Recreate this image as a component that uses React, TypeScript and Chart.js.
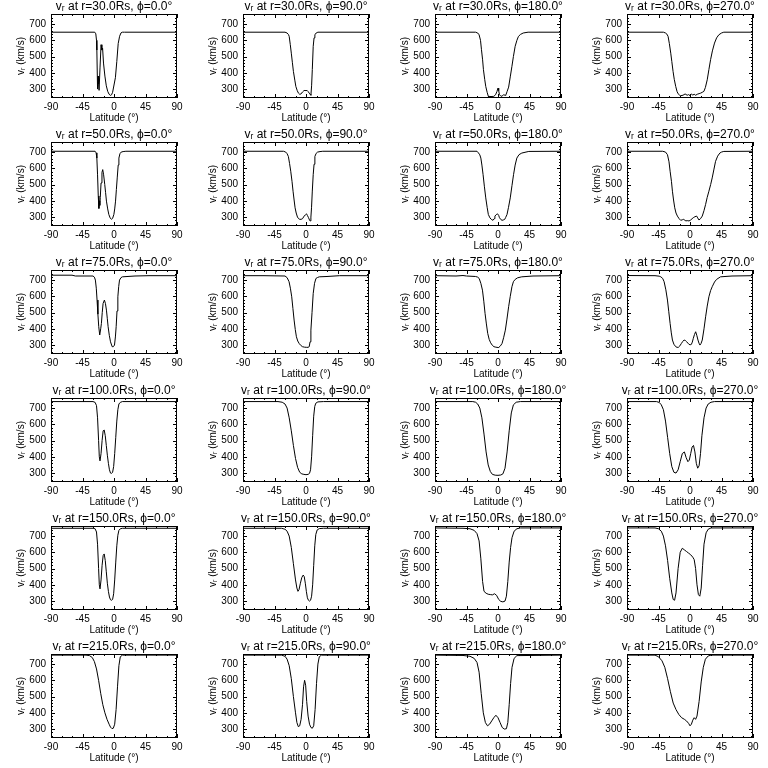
import React, { useEffect, useRef } from "react";
import { Chart, registerables } from "chart.js";

Chart.register(...registerables);

// ---------- axes ----------
const xTicks = [-90, -45, 0, 45, 90];
const yTicks = [300, 400, 500, 600, 700];
const xMinorTicks = [-75, -60, -30, -15, 15, 30, 60, 75];
const yMinorTicks = [260, 280, 320, 340, 360, 380, 420, 440, 460, 480, 520, 540, 560, 580, 620, 640, 660, 680, 720, 740, 760];
const latMin = -90;
const latMax = 90;
const vMin = 245;
const vMax = 762;

const radii = ["30.0", "50.0", "75.0", "100.0", "150.0", "215.0"];
const phis = ["0.0", "90.0", "180.0", "270.0"];

// ---------- r = 30 Rs ----------
const lat_r30_p0 = [-90, -27.5, -26, -25, -24.5, -23.5, -22.8, -22, -21.3, -20, -18.5, -17.3, -16.3, -15, -13, -11, -9, -7, -5, -3.5, -2, 0, 2, 4, 6, 8, 10, 12, 15, 90];
const vr_r30_p0 = [650, 650, 640, 600, 540, 300, 380, 330, 292, 430, 573, 540, 552, 460, 380, 320, 286, 268, 261, 265, 280, 325, 370, 470, 580, 625, 646, 650, 650, 650];

const lat_r30_p90 = [-90, -30, -27, -25, -24, -22.5, -21, -19.5, -18, -16, -14.5, -12.5, -10.8, -9, -7.4, -5, -3, -1.5, 0, 1.5, 3, 4.6, 6, 7, 8, 9, 10.3, 11.5, 12.7, 14.5, 17, 90];
const vr_r30_p90 = [650, 650, 645, 635, 624, 575, 521, 465, 409, 355, 316, 290, 275, 268, 269, 282, 290, 292, 290, 292, 285, 275, 267, 262, 320, 420, 563, 615, 634, 645, 650, 650];

const lat_r30_p180 = [-90, -32, -29, -27, -25, -23.6, -22, -20.8, -19, -17.5, -15.5, -13.8, -10, -6, -3.5, -1.5, 0, 1, 2.1, 4.4, 6, 8.2, 10, 11.4, 13, 15.2, 17.5, 19.9, 22, 24.5, 27, 29.2, 32, 36, 40, 43, 90];
const vr_r30_p180 = [650, 650, 645, 634, 600, 542, 480, 419, 360, 316, 280, 255, 254, 255, 265, 285, 306, 290, 265, 255, 258, 265, 262, 265, 285, 312, 375, 440, 500, 563, 600, 624, 636, 645, 648, 650, 650];

const lat_r30_p270 = [-90, -38, -35, -33, -31.3, -29.5, -27.5, -26, -24.2, -22.5, -20.4, -18.5, -17, -15, -13.3, -10, -7, -4, -2, 0, 2, 4, 6, 8, 10.4, 13, 15.2, 17.5, 19.9, 22, 24.6, 27, 29.4, 32, 35, 38, 41.2, 45, 48.3, 90];
const vr_r30_p270 = [650, 650, 645, 638, 624, 580, 521, 470, 409, 360, 316, 285, 271, 263, 259, 262, 270, 262, 266, 260, 270, 263, 268, 262, 268, 272, 275, 280, 286, 310, 357, 420, 481, 535, 583, 615, 634, 645, 650, 650];

// ---------- r = 50 Rs ----------
const lat_r50_p0 = [-90, -27, -25.5, -24.5, -23.5, -22.5, -21.6, -21, -20.3, -19.6, -18.5, -17.2, -16.1, -14.8, -13.2, -12, -10.8, -9, -7.4, -5.5, -3.6, -2, -0.2, 1, 2.2, 3.4, 4.6, 6, 7, 8.5, 10.3, 13, 17, 90];
const vr_r50_p0 = [705, 705, 695, 663, 560, 430, 353, 400, 372, 420, 510, 575, 592, 560, 500, 450, 398, 350, 316, 295, 286, 292, 316, 350, 398, 470, 541, 620, 663, 690, 700, 703, 705, 705];

const lat_r50_p90 = [-90, -32, -29, -27, -25.2, -23.5, -21.8, -20, -18.5, -17, -15.6, -14, -12.2, -10.5, -8.9, -7, -5, -2.6, -1, 0.7, 2, 3.6, 5, 6, 7, 7.9, 9, 10.3, 11.5, 12.7, 14.5, 16.6, 20, 24, 90];
const vr_r50_p90 = [705, 705, 700, 690, 673, 630, 582, 520, 459, 405, 357, 325, 300, 290, 286, 286, 290, 306, 313, 320, 310, 296, 282, 276, 300, 357, 460, 561, 625, 673, 692, 700, 703, 705, 705];

const lat_r50_p180 = [-90, -30, -28, -26, -24.5, -23, -21.3, -19.5, -17.5, -15.5, -13.8, -11.5, -9.6, -7.2, -5.5, -4.4, -2.5, -0.7, 1, 2.1, 4, 5.8, 7.5, 9.6, 11, 12.9, 15, 17.5, 20, 22.2, 24.5, 26.9, 30, 34, 40, 44, 90];
const vr_r50_p180 = [705, 705, 695, 683, 663, 620, 561, 490, 418, 360, 316, 295, 286, 280, 290, 306, 315, 320, 310, 296, 285, 280, 282, 286, 298, 316, 360, 418, 495, 561, 620, 663, 684, 694, 700, 704, 705];

const lat_r50_p270 = [-90, -39, -35, -32.2, -30, -28.4, -26.5, -25.1, -23.5, -21.8, -20, -18, -15.5, -13.3, -11, -9.5, -7.5, -6.2, -4, -1.4, 1, 3, 4.7, 7, 9.5, 11, 12.8, 15, 17.5, 20, 22.3, 24.5, 27, 29.5, 31.7, 34, 36.5, 39.5, 42.6, 45, 48.3, 90];
const vr_r50_p270 = [705, 705, 700, 684, 640, 582, 520, 459, 405, 357, 325, 306, 290, 280, 283, 286, 282, 276, 278, 276, 282, 290, 296, 302, 306, 295, 282, 290, 306, 340, 378, 420, 459, 500, 541, 590, 643, 675, 694, 700, 704, 705];

// ---------- r = 75 Rs ----------
const lat_r75_p0 = [-90, -60, -55, -30, -28, -26.6, -25.3, -24.2, -23, -21.8, -20.4, -19, -18, -16.8, -15.6, -13.7, -12.2, -10.8, -9.6, -8.4, -6.7, -5, -2.6, -1, 0.7, 2, 3.1, 4.3, 5.5, 6.7, 7.9, 10, 12, 30, 50, 90];
const vr_r75_p0 = [730, 730, 725, 725, 718, 700, 650, 577, 490, 413, 362, 400, 433, 500, 556, 577, 555, 515, 465, 413, 360, 320, 290, 290, 300, 350, 413, 510, 597, 660, 700, 715, 720, 725, 727, 727];

const lat_r75_p90 = [-90, -60, -30, -27, -24.2, -22.3, -20.4, -18.7, -17, -15.3, -13.7, -11.8, -9.8, -7.5, -5, -2, 1, 3, 4.6, 5.8, 7, 8.6, 10.3, 12.2, 14.2, 16.5, 19, 30, 48, 90];
const vr_r75_p90 = [727, 727, 725, 715, 690, 650, 597, 525, 454, 395, 351, 325, 310, 298, 290, 287, 286, 286, 290, 320, 392, 500, 618, 680, 710, 716, 720, 722, 727, 727];

const lat_r75_p180 = [-90, -60, -50, -45, -32, -29, -26.9, -24.5, -22.2, -20.3, -18.5, -16.6, -14.7, -12.6, -10.5, -8, -5.8, -3, 0, 1.2, 3.5, 5.8, 8, 10.5, 12.8, 15.2, 17.5, 19.9, 22, 24.5, 28, 34, 50, 90];
const vr_r75_p180 = [727, 725, 728, 725, 722, 718, 710, 680, 638, 570, 495, 430, 372, 335, 314, 298, 290, 287, 285, 286, 295, 310, 345, 392, 460, 536, 600, 659, 690, 704, 714, 720, 725, 727];

const lat_r75_p270 = [-90, -50, -44, -41.7, -39, -37, -34.5, -32.2, -30.3, -28.4, -26.7, -25.1, -23, -20.4, -18.5, -16.6, -14.5, -12.3, -10.4, -8.5, -6.6, -4.7, -3, -1.4, 0.3, 1.9, 3.3, 4.7, 6.4, 8.1, 9.7, 11.4, 12.8, 14.2, 15.8, 17.5, 20, 22.3, 24.6, 27, 29.4, 31.7, 35, 37.9, 43.6, 60, 90];
const vr_r75_p270 = [728, 727, 724, 720, 710, 690, 640, 577, 505, 433, 375, 331, 305, 290, 286, 286, 295, 310, 322, 331, 328, 320, 312, 304, 302, 304, 318, 341, 365, 382, 360, 331, 312, 300, 310, 331, 400, 474, 540, 597, 635, 659, 688, 704, 720, 725, 727];

// ---------- r = 100 Rs ----------
const lat_r100_p0 = [-90, -30, -27, -25, -23.5, -22, -21, -20, -18.5, -17, -15.5, -14, -12.5, -11, -9.5, -8, -6.5, -5, -3.5, -2, -0.5, 1, 2.5, 4, 5.5, 7, 9, 12, 90];
const vr_r100_p0 = [740, 740, 735, 715, 640, 500, 400, 375, 420, 500, 560, 565, 530, 470, 410, 360, 320, 300, 298, 305, 340, 420, 520, 620, 690, 725, 735, 740, 740];

const lat_r100_p90 = [-90, -40, -34, -30, -27, -24, -21, -18, -15, -12, -9, -6, -3, 0, 3, 5, 6.5, 8, 9.5, 11, 12.5, 14, 17, 25, 90];
const vr_r100_p90 = [740, 740, 736, 725, 700, 640, 560, 470, 390, 335, 305, 295, 292, 290, 292, 298, 320, 400, 530, 650, 710, 730, 738, 740, 740];

const lat_r100_p180 = [-90, -36, -32, -29, -26, -23, -20, -17, -14, -11, -8, -4, 0, 4, 7, 10, 13, 16, 19, 22, 26, 32, 90];
const vr_r100_p180 = [740, 740, 736, 725, 700, 640, 540, 430, 350, 310, 292, 287, 286, 288, 295, 330, 430, 560, 670, 720, 736, 740, 740];

const lat_r100_p270 = [-90, -48, -44, -41, -38, -35, -32, -29, -26, -23, -20, -17, -14, -11, -8, -5.5, -3, -1, 1, 3, 5, 7, 9, 11, 13, 15, 17, 20, 23, 26, 30, 35, 90];
const vr_r100_p270 = [740, 740, 735, 720, 690, 620, 520, 420, 340, 305, 300, 320, 370, 420, 430, 395, 370, 380, 420, 460, 470, 430, 360, 330, 345, 420, 530, 640, 700, 725, 736, 740, 740];

// ---------- r = 150 Rs ----------
const lat_r150_p0 = [-90, -30, -27, -25, -23.5, -22, -21, -20, -18.5, -17, -15.5, -14, -12.5, -11, -9.5, -8, -6.5, -5, -3.5, -2, -0.5, 1, 2.5, 4, 5.5, 7, 9, 12, 90];
const vr_r150_p0 = [748, 748, 745, 725, 650, 500, 400, 375, 430, 520, 580, 590, 550, 480, 410, 360, 325, 308, 305, 310, 345, 430, 540, 640, 705, 735, 745, 748, 748];

const lat_r150_p90 = [-90, -35, -30, -27, -24, -21, -18, -15, -13, -11.5, -10, -8, -6, -4, -2.5, -1, 0.5, 2, 3.5, 5, 6.5, 8, 9.5, 11, 12.5, 14, 16, 19, 25, 90];
const vr_r150_p90 = [748, 748, 742, 730, 700, 630, 530, 430, 380, 360, 370, 410, 445, 460, 450, 410, 360, 320, 305, 300, 305, 330, 400, 520, 640, 710, 738, 746, 748, 748];

const lat_r150_p180 = [-90, -50, -40, -34, -30, -27, -24.5, -22, -20, -17, -14, -11, -8, -5, -2, 1, 4, 7, 10, 12, 14, 16, 18, 20, 23, 27, 32, 90];
const vr_r150_p180 = [750, 748, 745, 735, 715, 670, 560, 420, 360, 348, 342, 340, 338, 345, 335, 310, 298, 295, 300, 330, 420, 540, 630, 690, 730, 745, 750, 750];

const lat_r150_p270 = [-90, -50, -45, -41, -38, -35, -32, -29, -26, -24, -22, -20, -17, -14, -11, -8, -5, -2, 1, 4, 6, 8, 10, 12, 14, 16, 18, 20, 23, 26, 30, 90];
const vr_r150_p270 = [750, 750, 745, 730, 700, 640, 550, 440, 350, 310, 305, 350, 500, 600, 625, 615, 605, 595, 585, 570, 555, 500, 400, 340, 330, 380, 520, 650, 720, 742, 750, 750];

// ---------- r = 215 Rs ----------
const lat_r215_p0 = [-90, -40, -35, -31, -28, -25, -22, -19, -16, -13, -10, -7, -5, -3, -1, 1, 3, 5, 7, 9, 12, 90];
const vr_r215_p0 = [755, 755, 752, 740, 715, 670, 600, 520, 450, 400, 360, 330, 312, 303, 305, 330, 420, 560, 690, 745, 755, 755];

const lat_r215_p90 = [-90, -35, -30, -27, -24, -21, -18, -15, -13, -11, -9, -7, -5, -3.5, -2, -0.5, 1, 3, 5, 7, 9, 11, 13, 15, 17, 19, 22, 90];
const vr_r215_p90 = [755, 755, 748, 730, 690, 610, 500, 400, 340, 315, 320, 360, 450, 560, 600, 570, 470, 380, 330, 310, 305, 320, 420, 580, 700, 745, 755, 755];

const lat_r215_p180 = [-90, -50, -40, -34, -30, -27, -24, -21, -18, -15, -12, -9, -6, -3, 0, 3, 6, 9, 12, 14, 16, 18, 20, 23, 27, 90];
const vr_r215_p180 = [755, 753, 748, 735, 710, 650, 520, 400, 340, 320, 330, 350, 370, 385, 370, 340, 310, 300, 302, 340, 450, 580, 680, 735, 752, 755];

const lat_r215_p270 = [-90, -50, -45, -40, -36, -32, -28, -24, -20, -16, -12, -8, -5, -2, 0, 2, 4, 6, 8, 10, 13, 16, 19, 22, 26, 30, 90];
const vr_r215_p270 = [755, 755, 745, 720, 680, 610, 530, 460, 420, 390, 370, 360, 350, 335, 320, 330, 355, 370, 360, 380, 470, 590, 680, 730, 750, 755, 755];

const latRows = [
  [lat_r30_p0, lat_r30_p90, lat_r30_p180, lat_r30_p270],
  [lat_r50_p0, lat_r50_p90, lat_r50_p180, lat_r50_p270],
  [lat_r75_p0, lat_r75_p90, lat_r75_p180, lat_r75_p270],
  [lat_r100_p0, lat_r100_p90, lat_r100_p180, lat_r100_p270],
  [lat_r150_p0, lat_r150_p90, lat_r150_p180, lat_r150_p270],
  [lat_r215_p0, lat_r215_p90, lat_r215_p180, lat_r215_p270],
];
const vrRows = [
  [vr_r30_p0, vr_r30_p90, vr_r30_p180, vr_r30_p270],
  [vr_r50_p0, vr_r50_p90, vr_r50_p180, vr_r50_p270],
  [vr_r75_p0, vr_r75_p90, vr_r75_p180, vr_r75_p270],
  [vr_r100_p0, vr_r100_p90, vr_r100_p180, vr_r100_p270],
  [vr_r150_p0, vr_r150_p90, vr_r150_p180, vr_r150_p270],
  [vr_r215_p0, vr_r215_p90, vr_r215_p180, vr_r215_p270],
];

const FONT = "'Liberation Sans', 'DejaVu Sans', sans-serif";
const PANEL_W = 192;
const PANEL_H = 128;

function Panel({ title, lat, vr }: { title: string; lat: number[]; vr: number[] }) {
  const ref = useRef<HTMLCanvasElement | null>(null);
  useEffect(() => {
    if (!ref.current) return;
    const framePlugin = {
      id: "idlFrame",
      afterDraw(chart: any) {
        const { ctx, chartArea: a, scales } = chart;
        const xs = scales.x;
        const ys = scales.y;
        ctx.save();
        ctx.strokeStyle = "#000";
        ctx.lineWidth = 1;
        ctx.strokeRect(Math.round(a.left) + 0.5, Math.round(a.top) + 0.5, Math.round(a.right - a.left) - 1, Math.round(a.bottom - a.top) - 1);
        ctx.beginPath();
        const xt = (v: number, len: number) => {
          const p = Math.round(xs.getPixelForValue(v)) + 0.5;
          ctx.moveTo(p, a.bottom);
          ctx.lineTo(p, a.bottom - len);
          ctx.moveTo(p, a.top);
          ctx.lineTo(p, a.top + len);
        };
        const yt = (v: number, len: number) => {
          const p = Math.round(ys.getPixelForValue(v)) + 0.5;
          ctx.moveTo(a.left, p);
          ctx.lineTo(a.left + len, p);
          ctx.moveTo(a.right, p);
          ctx.lineTo(a.right - len, p);
        };
        xTicks.forEach((v) => xt(v, 4));
        xMinorTicks.forEach((v) => xt(v, 2));
        yTicks.forEach((v) => yt(v, 4));
        yMinorTicks.forEach((v) => yt(v, 2));
        ctx.stroke();
        ctx.fillStyle = "#000";
        ctx.font = `12px ${FONT}`;
        ctx.textAlign = "center";
        ctx.textBaseline = "middle";
        ctx.fillText(title, (a.left + a.right) / 2, 7);
        ctx.restore();
      },
    };
    const font = { family: FONT, size: 10 };
    const chart = new Chart(ref.current, {
      type: "line",
      data: {
        datasets: [
          {
            data: lat.map((x, i) => ({ x, y: vr[i] })),
            borderColor: "#000",
            borderWidth: 1,
            pointRadius: 0,
            tension: 0,
            fill: false,
          },
        ],
      },
      options: {
        animation: false,
        responsive: false,
        devicePixelRatio: 1,
        layout: { padding: { top: 14, right: 15, left: 0, bottom: 0 } },
        plugins: { legend: { display: false }, tooltip: { enabled: false }, title: { display: false } },
        scales: {
          x: {
            type: "linear",
            min: latMin,
            max: latMax,
            afterBuildTicks: (s: any) => {
              s.ticks = xTicks.map((v) => ({ value: v }));
            },
            afterFit: (s: any) => {
              s.height = 30;
            },
            grid: { display: false, drawTicks: false },
            border: { display: false },
            ticks: { font, color: "#000", padding: 3, maxRotation: 0, minRotation: 0, autoSkip: false, callback: (v: any) => String(v) },
            title: { display: true, text: "Latitude (°)", font, color: "#000", padding: { top: 0, bottom: 4 } },
          },
          y: {
            type: "linear",
            min: vMin,
            max: vMax,
            afterBuildTicks: (s: any) => {
              s.ticks = yTicks.map((v) => ({ value: v }));
            },
            afterFit: (s: any) => {
              s.width = 51;
            },
            grid: { display: false, drawTicks: false },
            border: { display: false },
            ticks: { font, color: "#000", padding: 5, autoSkip: false, callback: (v: any) => String(v) },
            title: { display: true, text: "vᵣ (km/s)", font, color: "#000", padding: { top: 15, bottom: 0 } },
          },
        },
      },
      plugins: [framePlugin],
    } as any);
    return () => chart.destroy();
  }, [title, lat, vr]);
  return (
    <div style={{ width: PANEL_W, height: PANEL_H }}>
      <canvas ref={ref} width={PANEL_W} height={PANEL_H} style={{ width: PANEL_W, height: PANEL_H, display: "block" }} />
    </div>
  );
}

export default function App() {
  return (
    <div
      style={{
        position: "absolute",
        left: 0,
        top: 0,
        width: 768,
        height: 768,
        background: "#fff",
        display: "grid",
        gridTemplateColumns: `repeat(4, ${PANEL_W}px)`,
        gridTemplateRows: `repeat(6, ${PANEL_H}px)`,
      }}
    >
      {radii.map((r, ri) =>
        phis.map((p, pi) => (
          <Panel key={`${ri}-${pi}`} title={`vᵣ at r=${r}Rs, ϕ=${p}°`} lat={latRows[ri][pi]} vr={vrRows[ri][pi]} />
        ))
      )}
    </div>
  );
}
